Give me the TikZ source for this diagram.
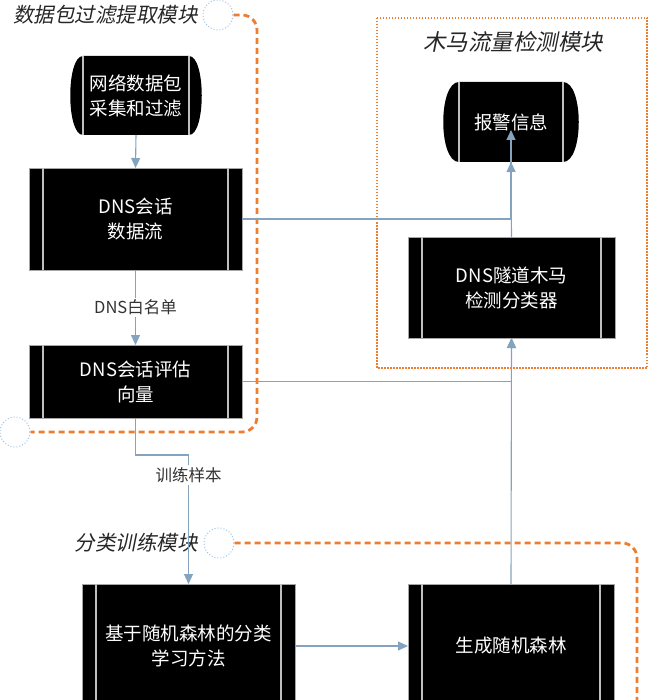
\documentclass[tikz,border=0pt]{standalone}
\usepackage{fontspec}
\setmainfont{Noto Sans CJK SC}
\newfontfamily\slfont[FakeSlant=0.2]{Noto Sans CJK SC}
\usetikzlibrary{arrows.meta,backgrounds}
\definecolor{conn}{HTML}{84A3BE}
\definecolor{orng}{HTML}{ED7D31}
\definecolor{circ}{HTML}{9DC3E6}
\definecolor{innerl}{HTML}{BFBFBF}
\tikzset{
  procbox/.style={fill=black, draw=gray!70, line width=0.8pt, text=white,
    font=\fontsize{18.5}{25}\selectfont, align=center, inner sep=0pt, outer sep=0pt},
  dispbox/.style={text=white, font=\fontsize{18.5}{25}\selectfont, align=center,
    inner sep=0pt, outer sep=0pt},
  innerline/.style={draw=innerl, line width=1.2pt},
  conline/.style={draw=conn, line width=1.1pt},
  conarrow/.style={conline, -{Triangle[length=10pt,width=9pt]}},
  lbl/.style={fill=white, text=black!80, font=\fontsize{16.5}{20}\selectfont, inner sep=2pt},
  modlabel/.style={text=black!85, font=\slfont\fontsize{20.5}{24}\selectfont, inner sep=0pt},
  orangedash/.style={draw=orng, line width=2.8pt, dash pattern=on 6pt off 4pt},
  orangedot/.style={draw=orng, line width=1.6pt, dash pattern=on 1.5pt off 1.5pt},
  modcircle/.style={circle, draw=circ, line width=1pt, dotted, minimum size=30pt, inner sep=0pt}
}
\begin{document}
\begin{tikzpicture}[x=1pt,y=-1pt]
\useasboundingbox (0,0) rectangle (648,700);
\clip (0,0) rectangle (648,700);

% module labels and circles
\node[modlabel, anchor=east] (m1) at (198,15) {数据包过滤提取模块};
\node[modcircle] (c1) at (218,15) {};
\node[modcircle] (c2) at (15,432) {};
\node[modlabel, anchor=east] (m2) at (198,543) {分类训练模块};
\node[modcircle] (c3) at (219,543) {};
\draw[orangedot] (377,18) rectangle (647,368);
\node[modlabel, font=\slfont\fontsize{22.5}{26}\selectfont] (m3) at (513,42) {木马流量检测模块};

% orange module boundaries
\draw[orangedash, rounded corners=15pt] (c1.east) -| (257,432) -- (c2.east);
\draw[orangedash, rounded corners=15pt] (c3.east) -| (637,720);

% nodes
\node[dispbox, minimum width=106pt, minimum height=79pt] (net) at (136,95.5) {网络数据包\\采集和过滤};
\node[procbox, minimum width=213pt, minimum height=102pt] (flow) at (135.5,219) {DNS会话\\数据流};
\node[procbox, minimum width=213pt, minimum height=73pt] (vec) at (135.5,381.5) {DNS会话评估\\向量};
\node[procbox, minimum width=213pt, minimum height=124pt] (learn) at (188.5,646) {基于随机森林的分类\\学习方法};
\node[procbox, minimum width=206pt, minimum height=124pt] (forest) at (511,646) {生成随机森林};
\node[procbox, minimum width=207pt, minimum height=101pt] (clf) at (511.5,287.5) {DNS隧道木马\\检测分类器};
\node[dispbox, minimum width=104pt, minimum height=80pt] (alarm) at (511,122) {报警信息};

\begin{scope}[on background layer]
  \fill[black] (net.north west) -- (net.north east) .. controls +(17,0) and +(17,0) .. (net.south east)
    -- (net.south west) .. controls +(-17,0) and +(-17,0) .. (net.north west);
  \fill[black] (alarm.north west) -- (alarm.north east) .. controls +(21,0) and +(21,0) .. (alarm.south east)
    -- (alarm.south west) .. controls +(-21,0) and +(-21,0) .. (alarm.north west);
\end{scope}
\draw[innerline] (net.north west) -- (net.south west);
\draw[innerline] (net.north east) -- (net.south east);
\draw[innerline] (alarm.north west) -- (alarm.south west);
\draw[innerline] (alarm.north east) -- (alarm.south east);

\foreach \n in {flow,vec,learn,forest,clf}{
  \draw[innerline] ([xshift=14pt]\n.north west) -- ([xshift=14pt]\n.south west);
  \draw[innerline] ([xshift=-14pt]\n.north east) -- ([xshift=-14pt]\n.south east);
}

% connectors
\draw[conarrow] (net.south) -- (flow.north);
\draw[conarrow] (flow.south) -- node[lbl] (wl) {DNS白名单} (vec.north);
\draw[conarrow] (flow.east) -| ([yshift=-8pt]alarm.center);
\draw[conarrow] (clf.north) -- (alarm.south);
\draw[conarrow] (vec.east) -| (clf.south);
\draw[conarrow] (forest.north) -- (clf.south);
\coordinate (tc) at (188.5,455);
\draw[conarrow] (vec.south) |- (tc) -- (learn.north);
\node[lbl] (ts) at (188.5,475) {训练样本};
\draw[conarrow] (learn.east) -- (forest.west);
\end{tikzpicture}
\end{document}
